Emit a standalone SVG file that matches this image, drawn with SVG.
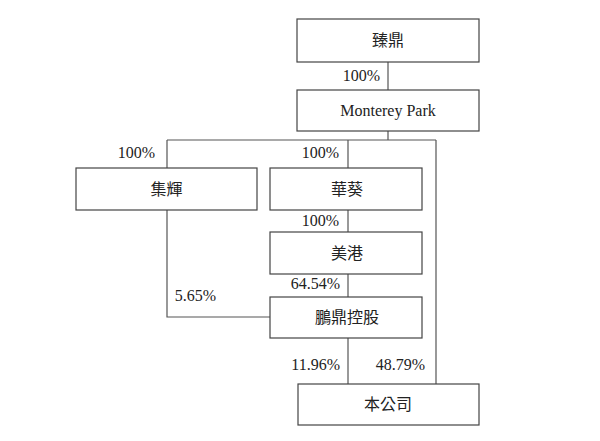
<svg xmlns="http://www.w3.org/2000/svg" width="600" height="441" viewBox="0 0 600 441">
<style>
.box{fill:#fff;stroke:#444;stroke-width:1.2}
.ln{fill:none;stroke:#555;stroke-width:1.2}
.t{font-family:"Liberation Serif","Noto Sans CJK TC",serif;font-size:16px;fill:#222;text-anchor:middle}
.p{font-family:"Liberation Serif",serif;font-size:16px;fill:#222;text-anchor:end}
</style>
<rect width="600" height="441" fill="#fff"/>
<g id="connectors">
<path class="ln" d="M388,62V90"/>
<path class="ln" d="M388,131V140M167,140H436M167,140V168M348,140V168M436,140V384"/>
<path class="ln" d="M348,210V232"/>
<path class="ln" d="M348,274V297"/>
<path class="ln" d="M167,210V317H270"/>
<path class="ln" d="M348,338V384"/>
<text class="p" x="380" y="81">100%</text>
<text class="p" x="155" y="158">100%</text>
<text class="p" x="339" y="158">100%</text>
<text class="p" x="339" y="226">100%</text>
<text class="p" x="340" y="289">64.54%</text>
<text class="p" x="216" y="301">5.65%</text>
<text class="p" x="340" y="370">11.96%</text>
<text class="p" x="425" y="370">48.79%</text>
</g>
<g id="zhending"><rect class="box" x="297" y="19" width="182" height="43"/><text class="t" x="388" y="46">臻鼎</text></g>
<g id="monterey"><rect class="box" x="297" y="90" width="182" height="41"/><text class="t" x="388" y="116">Monterey Park</text></g>
<g id="jihui"><rect class="box" x="76" y="168" width="181" height="42"/><text class="t" x="166.5" y="195">集輝</text></g>
<g id="huakui"><rect class="box" x="270" y="168" width="152" height="42"/><text class="t" x="347" y="195">華葵</text></g>
<g id="meigang"><rect class="box" x="270" y="232" width="152" height="42"/><text class="t" x="347" y="259">美港</text></g>
<g id="pengding"><rect class="box" x="270" y="297" width="152" height="41"/><text class="t" x="347" y="323">鵬鼎控股</text></g>
<g id="company"><rect class="box" x="298" y="384" width="181" height="41"/><text class="t" x="388" y="410">本公司</text></g>
</svg>
